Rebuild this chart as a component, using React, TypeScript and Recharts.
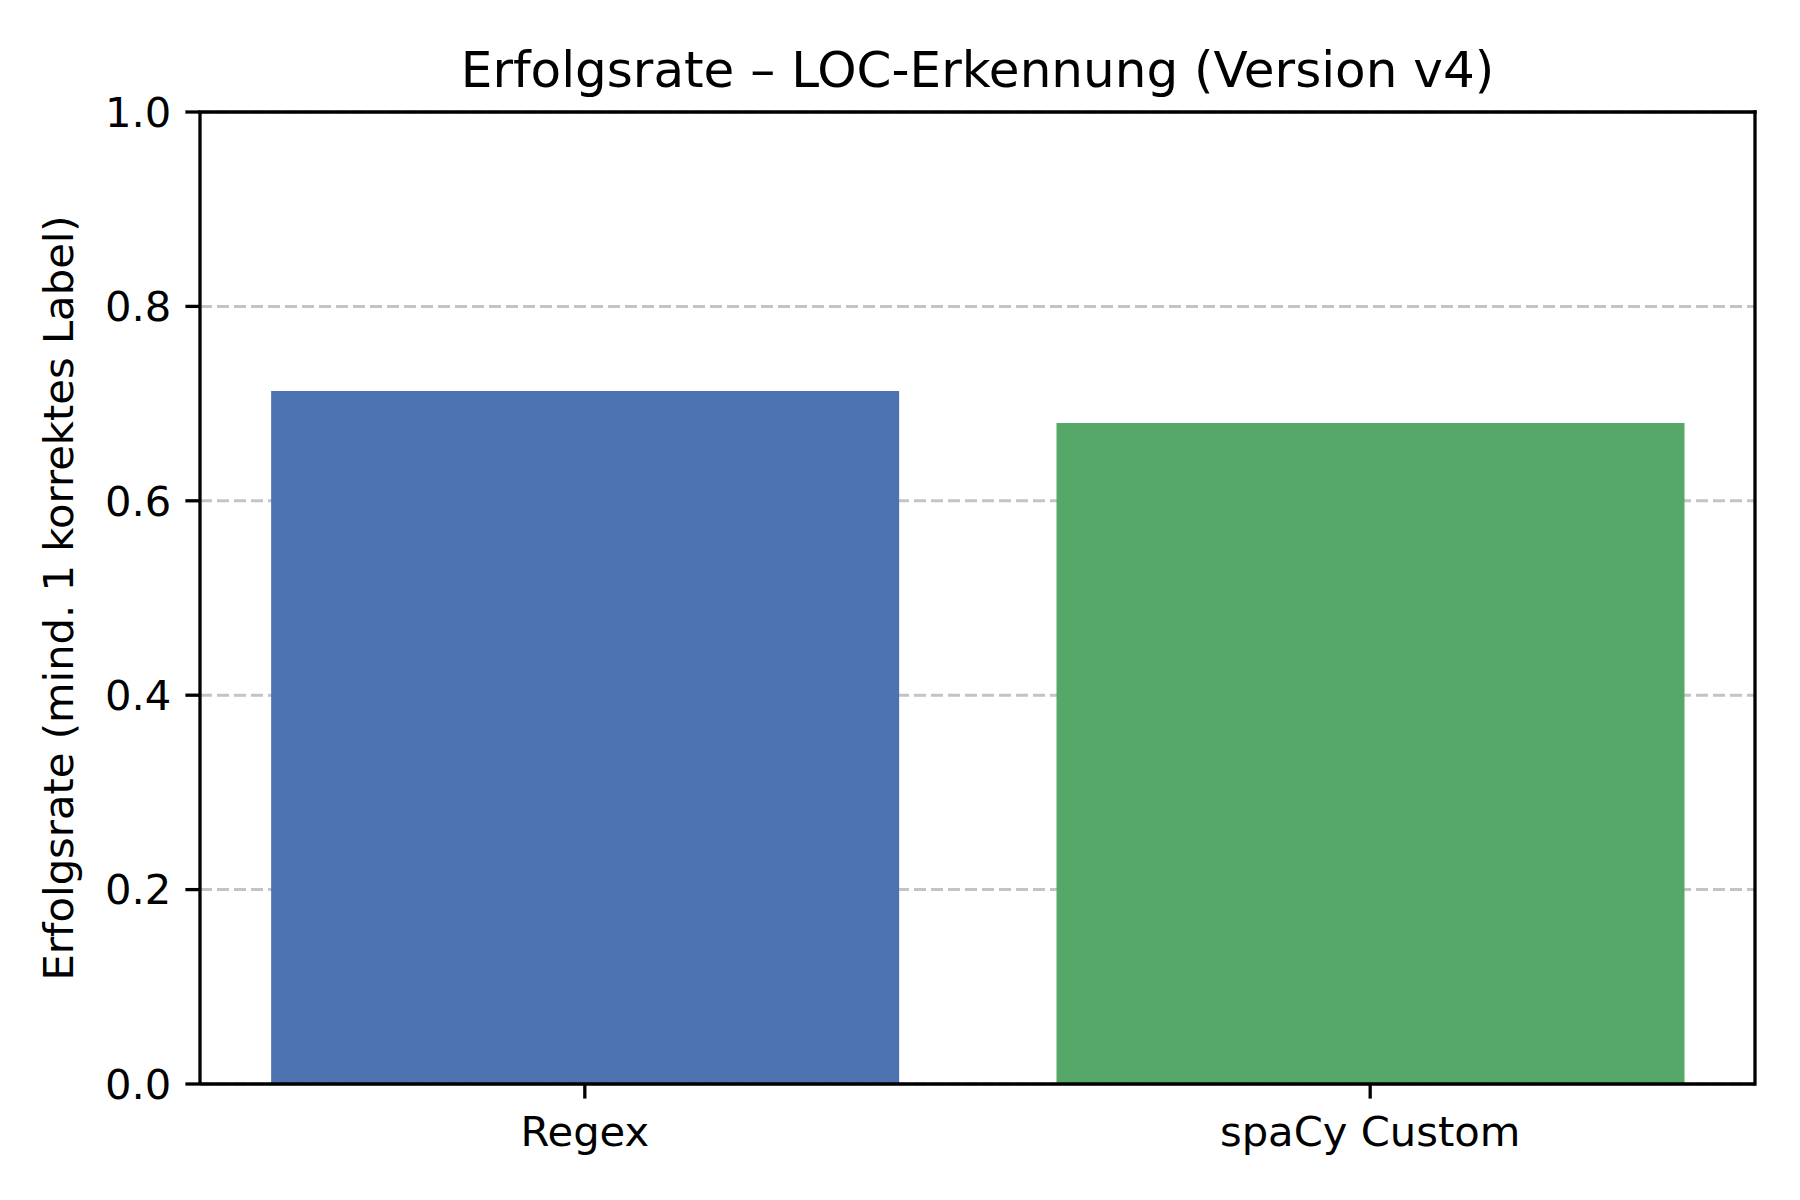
import { BarChart, Bar, XAxis, YAxis, CartesianGrid, Cell, ReferenceLine } from 'recharts';

const categories = ['Regex', 'spaCy Custom'];
const rates = [0.713, 0.68];
const barColors = ['#4C72B0', '#55A868'];
const yTicks = [0, 0.2, 0.4, 0.6, 0.8, 1.0];
const xPositions = [0, 1];
const xDomain = [-0.49, 1.49];

const FONT = '"DejaVu Sans", Verdana, sans-serif';
const W = 1800;
const H = 1200;

const data = categories.map((name, i) => ({ x: xPositions[i], name, rate: rates[i] }));

const tickStyle = { fill: '#000', fontSize: 41.7, fontFamily: FONT };
const spine = { stroke: '#000', strokeWidth: 3.3 };

export default function App() {
    return (
        <div style={{ position: 'absolute', left: 0, top: 0, width: W, height: H, background: '#fff' }}>
            <BarChart
                width={W}
                height={H}
                data={data}
                margin={{ top: 112, right: 45, bottom: 0, left: 0 }}
            >
                <CartesianGrid
                    vertical={false}
                    stroke="#c4c4c4"
                    strokeWidth={3}
                    strokeDasharray="12 5"
                />
                <Bar dataKey="rate" barSize={628} isAnimationActive={false}>
                    {data.map((d, i) => (
                        <Cell key={d.name} fill={barColors[i]} />
                    ))}
                </Bar>
                {/* top and right spines of the box */}
                <ReferenceLine y={1} stroke="#000" strokeWidth={3.3} strokeLinecap="square" />
                <ReferenceLine x={xDomain[1]} stroke="#000" strokeWidth={3.3} strokeLinecap="square" />
                <XAxis
                    dataKey="x"
                    type="number"
                    domain={xDomain}
                    ticks={xPositions}
                    allowDataOverflow
                    tickFormatter={(v: number) => categories[v] ?? ''}
                    height={116}
                    tick={tickStyle}
                    tickSize={14.6}
                    tickMargin={18}
                    tickLine={spine}
                    axisLine={spine}
                />
                <YAxis
                    type="number"
                    domain={[0, 1]}
                    ticks={yTicks}
                    interval={0}
                    width={200}
                    tickFormatter={(v: number) => v.toFixed(1)}
                    tick={tickStyle}
                    tickSize={14.6}
                    tickMargin={14}
                    tickLine={spine}
                    axisLine={spine}
                />
            </BarChart>
            <svg
                width={W}
                height={H}
                style={{ position: 'absolute', left: 0, top: 0, pointerEvents: 'none' }}
            >
                <text
                    x={977.5}
                    y={87}
                    textAnchor="middle"
                    fontFamily={FONT}
                    fontSize={50}
                    fill="#000"
                >
                    Erfolgsrate – LOC-Erkennung (Version v4)
                </text>
                <text
                    x={73}
                    y={598}
                    transform="rotate(-90, 73, 598)"
                    textAnchor="middle"
                    fontFamily={FONT}
                    fontSize={41.7}
                    fill="#000"
                >
                    Erfolgsrate (mind. 1 korrektes Label)
                </text>
            </svg>
        </div>
    );
}
